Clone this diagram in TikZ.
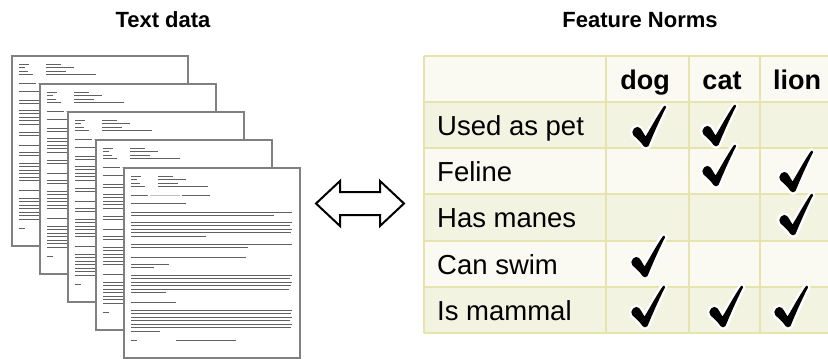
\documentclass[tikz,border=0pt]{standalone}
\usepackage{fontspec}
\setmainfont{Liberation Sans}
\definecolor{gridc}{RGB}{228,228,172}
\definecolor{lightrow}{RGB}{250,250,242}
\definecolor{darkrow}{RGB}{243,243,226}
\newcommand\checkpath{(-3.5,10.5) .. controls (1.5,2.5) and (8,-10) .. (15,-20)
 .. controls (16,-20.8) and (17.5,-19.8) .. (17,-18.5)
 .. controls (11,-7) and (4.5,8) .. (-0.5,20)
 .. controls (-1.5,21.8) and (-4.5,21.8) .. (-5.5,20)
 .. controls (-8,16) and (-12,12.5) .. (-15.5,9.5)
 .. controls (-17.5,7.5) and (-17,4.5) .. (-15,2.5)
 .. controls (-13,0.5) and (-10.5,0.5) .. (-9,2)
 .. controls (-7,4) and (-5.5,7.5) .. (-3.5,10.5) -- cycle}
\tikzset{
  pageborder/.style={draw=black!50, line width=1.3pt, fill=white},
  txt/.style={draw=black!62, line width=1pt},
  faint/.style={draw=black!25, line width=1pt},
  title/.style={font=\fontsize{22}{24}\selectfont\bfseries, inner sep=0pt},
  rowlabel/.style={font=\fontsize{27.5}{30}\selectfont, anchor=base west, inner sep=0pt},
  collabel/.style={font=\fontsize{27}{30}\selectfont\bfseries, anchor=base, inner sep=0pt},
  gridline/.style={draw=gridc, line width=1.6pt},
  tick/.pic={
    \draw[white, line width=5pt, line join=round] \checkpath;
    \fill[black] \checkpath;
  },
  memo/.pic={
    \path[pageborder] (0,0) rectangle (176,190);
    \foreach \y/\l/\v in {8/10/15, 11/6/28, 15/9/20, 18/14/50}{
      \draw[txt] (7,\y) -- (7+\l,\y);
      \draw[txt] (34,\y) -- (34+\v,\y);
    }
    \draw[txt] (7,27) -- (24,27);
    \draw[faint] (26,27) -- (56,27);
    \draw[txt] (58,27) -- (86,27);
    \draw[txt] (7,35) -- (62,35);
    \foreach \y/\e in {44/168, 47.5/150, 54/168, 57.5/166, 61/168, 64.5/167, 68/82, 76/168, 79.5/124, 89/122, 96/45, 99.5/30, 107/168, 110.5/166, 114/168, 117.5/167, 121/165, 124.5/42, 134/52, 142/168, 145.5/167, 149/168, 152.5/166, 156/168, 159.5/167, 163/36}{
      \draw[txt] (7,\y) -- (\e,\y);
    }
    \draw[txt] (7,172) -- (13,172);
    \draw[txt] (52,172) -- (112,172);
  }
}
\begin{document}
\begin{tikzpicture}[x=1pt,y=-1pt]
\useasboundingbox (0,0) rectangle (828,359);
\fill[white] (0,0) rectangle (828,359);
\begin{scope}
\clip (0,0) rectangle (828,359);
% titles
\node[title] (t1) at (163,20) {Text data};
\node[title] (t2) at (640,20) {Feature Norms};
% documents
\foreach \i in {0,...,4}{
  \pic at (12+28*\i,56+28*\i) {memo};
}
% double arrow
\draw[line width=2pt, line join=miter, fill=white]
  (316,203.5) -- (340,181) -- (340,192) -- (380,192) -- (380,181) -- (404,203.5)
  -- (380,226) -- (380,215) -- (340,215) -- (340,226) -- cycle;
% table backgrounds
\fill[lightrow] (424,56) rectangle (845,102);
\fill[darkrow] (424,102) rectangle (845,148);
\fill[lightrow] (424,148) rectangle (845,194);
\fill[darkrow] (424,194) rectangle (845,241);
\fill[lightrow] (424,241) rectangle (845,287);
\fill[darkrow] (424,287) rectangle (845,333);
% grid
\foreach \y in {56,102,148,194,241,287,333}{\draw[gridline] (424,\y) -- (845,\y);}
\foreach \x in {424,606,689,760}{\draw[gridline] (\x,56) -- (\x,333);}
% headers
\node[collabel] (hdog) at (645,89.5) {dog};
\node[collabel] (hcat) at (722,89.5) {cat};
\node[collabel] (hlion) at (797,89.5) {lion};
% row labels
\node[rowlabel] (r1) at (437,135.5) {Used as pet};
\node[rowlabel] (r2) at (437,181.5) {Feline};
\node[rowlabel] (r3) at (437,227.5) {Has manes};
\node[rowlabel] (r4) at (437,274) {Can swim};
\node[rowlabel] (r5) at (437,320) {Is mammal};
% checks
\pic at (649,126) {tick};
\pic at (719,125) {tick};
\pic at (719,165) {tick};
\pic at (796,171) {tick};
\pic at (796,214) {tick};
\pic at (648,256) {tick};
\pic at (648,306) {tick};
\pic at (726,306) {tick};
\pic at (791,306) {tick};
\end{scope}
\end{tikzpicture}
\end{document}
